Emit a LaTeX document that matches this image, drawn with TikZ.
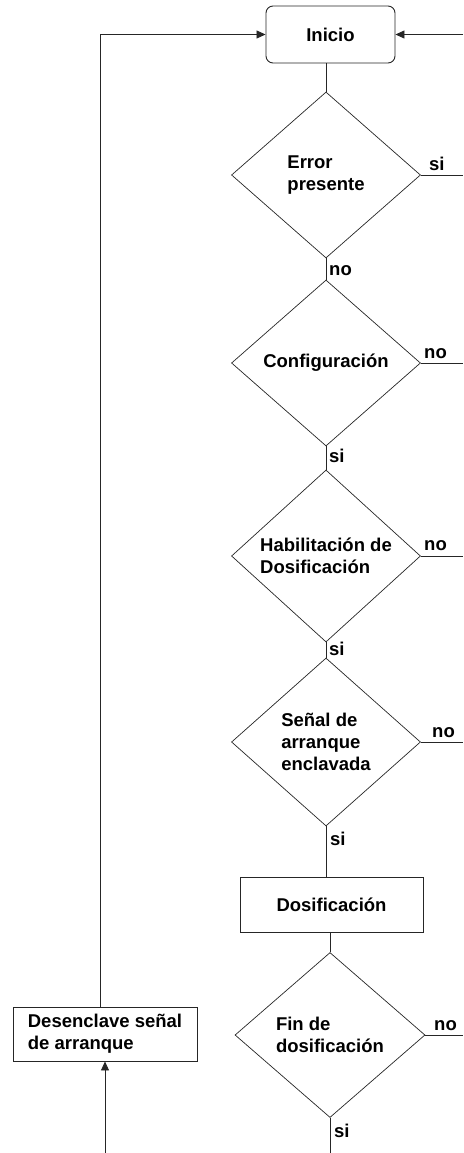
\documentclass[tikz,border=0pt]{standalone}
\usepackage{fontspec}
\setmainfont{Liberation Sans}
\usetikzlibrary{shapes.geometric,arrows.meta}
\begin{document}
\begin{tikzpicture}[x=1pt,y=-1pt,
  txt/.style={font=\fontsize{18.5}{22}\selectfont\bfseries, text=black},
  dec/.style={txt, draw=black!85, line width=0.7pt, diamond, minimum width=189pt, minimum height=166pt, inner sep=0pt, align=left},
  proc/.style={txt, draw=black!85, line width=0.9pt, rectangle, inner sep=0pt, align=left},
  lab/.style={txt, anchor=base west, inner sep=0pt},
  ln/.style={draw=black!85, line width=0.8pt},
  arr/.style={ln, -{Triangle[length=9pt,width=8pt]}}]
\useasboundingbox (0,0) rectangle (463,1153);
\coordinate (R) at (463,0);
\coordinate (L) at (100,0);
\coordinate (B) at (0,1153);

\node[proc, rounded corners=7pt, minimum width=129pt, minimum height=57pt] (inicio) at (330.5,34.5) {Inicio};
\node[dec] (d1) at (326,175) {Error\\presente};
\node[dec] (d2) at (326,363) {Configuración};
\node[dec, minimum height=172pt] (d3) at (326,556) {Habilitación de\\Dosificación};
\node[dec, minimum height=168pt] (d4) at (326,742) {Señal de\\arranque\\enclavada};
\node[proc, minimum width=183pt, minimum height=55pt] (dos) at (331.5,904.5) {Dosificación};
\node[dec, minimum width=190pt, minimum height=165pt] (d5) at (330,1035) {Fin de\\dosificación};
\node[proc, minimum width=184pt, minimum height=54pt] (des) at (105,1034) {Desenclave señal\\de arranque};

% main flow
\draw[ln] (d1.north |- inicio.south) -- (d1.north);
\draw[ln] (d1.south) -- (d2.north);
\draw[ln] (d2.south) -- (d3.north);
\draw[ln] (d3.south) -- (d4.north);
\draw[ln] (d4.south) -- (d4.south |- dos.north);
\draw[ln] (dos.south -| d5.north) -- (d5.north);
\draw[ln] (d5.south) -- (d5.south |- B);

% right side exits
\draw[ln] (d1.east) -- (d1.east -| R);
\draw[ln] (d2.east) -- (d2.east -| R);
\draw[ln] (d3.east) -- (d3.east -| R);
\draw[ln] (d4.east) -- (d4.east -| R);
\draw[ln] (d5.east) -- (d5.east -| R);
\draw[arr] (R |- inicio.east) -- (inicio.east);

% left return
\draw[arr] (des.south |- B) -- (des.south);
\draw[arr] (L |- des.north) |- (inicio.west);

% labels
\node[lab] at (429,170) {si};
\node[lab] at (329,275) {no};
\node[lab] at (424,358) {no};
\node[lab] at (329,462) {si};
\node[lab] at (424,550) {no};
\node[lab] at (329,655) {si};
\node[lab] at (432,737) {no};
\node[lab] at (330,845) {si};
\node[lab] at (434,1030) {no};
\node[lab] at (334,1137) {si};
\end{tikzpicture}
\end{document}
